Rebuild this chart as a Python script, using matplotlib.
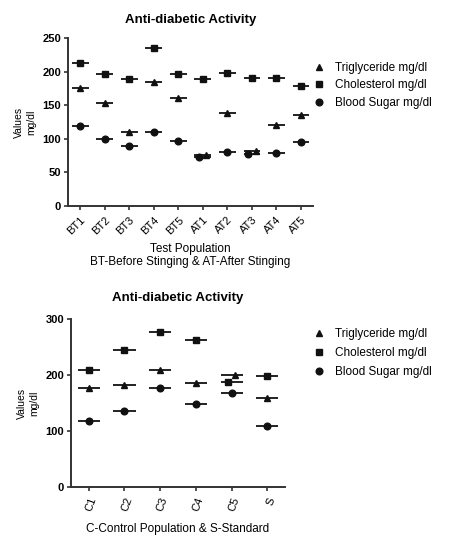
import matplotlib
matplotlib.use("Agg")
import matplotlib.pyplot as plt
import numpy as np

plt.rcParams['font.family'] = ['Liberation Sans', 'DejaVu Sans']

# top panel: test population
test_groups = ["BT1", "BT2", "BT3", "BT4", "BT5", "AT1", "AT2", "AT3", "AT4", "AT5"]
test_trig = [175, 153, 110, 184, 161, 76, 138, 82, 120, 135]
test_chol = [213, 197, 189, 235, 197, 189, 198, 191, 190, 179]
test_sugar = [119, 100, 90, 110, 97, 73, 80, 77, 79, 95]

# bottom panel: control population and standard
ctrl_groups = ["C1", "C2", "C3", "C4", "C5", "S"]
ctrl_trig = [176, 182, 209, 185, 200, 158]
ctrl_chol = [209, 245, 277, 262, 187, 199]
ctrl_sugar = [118, 136, 176, 148, 167, 108]

labels = ["Triglyceride mg/dl", "Cholesterol mg/dl", "Blood Sugar mg/dl"]
markers = ["^", "s", "o"]
ink = "#111111"


def draw_panel(ax, groups, series, ymax, step, line_w, dodge, rot):
    x = np.arange(1, len(groups) + 1)
    offsets = np.zeros((len(series), len(groups)))
    # shift points sideways where two series sit on top of each other
    for j in range(len(groups)):
        for a in range(len(series)):
            for b in range(a + 1, len(series)):
                if abs(series[a][j] - series[b][j]) < 0.05 * ymax:
                    lo, hi = (a, b) if series[a][j] < series[b][j] else (b, a)
                    offsets[lo, j] = -dodge
                    offsets[hi, j] = dodge
    handles = []
    for k, vals in enumerate(series):
        vals = np.array(vals)
        ax.hlines(vals, x - line_w / 2, x + line_w / 2, color=ink, lw=1.3)
        h, = ax.plot(x + offsets[k], vals, ls='none', marker=markers[k],
                     ms=4.8, color=ink, label=labels[k])
        handles.append(h)
    ax.set_xlim(0.5, len(groups) + 0.5)
    ax.set_ylim(0, ymax)
    ax.set_yticks(np.arange(0, ymax + 1, step))
    ax.set_xticks(x)
    ax.set_xticklabels(groups, rotation=rot, ha='right',
                       rotation_mode='anchor', fontsize=8)
    for s in ['top', 'right']:
        ax.spines[s].set_visible(False)
    for s in ['left', 'bottom']:
        ax.spines[s].set_linewidth(1.4)
        ax.spines[s].set_color('#333333')
    ax.tick_params(direction='out', length=3, width=1.2, color='#333333',
                   labelsize=8, pad=2)
    ax.tick_params(axis='x', pad=3.5)
    for t in ax.get_yticklabels():
        t.set_fontweight('bold')
    ax.set_ylabel("Values\nmg/dl", fontsize=7.5, labelpad=4, linespacing=1.4)
    return handles


fig = plt.figure(figsize=(4.49, 5.42), dpi=100)

ax1 = fig.add_axes([0.1514, 0.6199, 0.546, 0.310])
h1 = draw_panel(ax1, test_groups, [test_trig, test_chol, test_sugar],
                250, 50, 0.68, 0.15, 45)
ax1.set_title("Anti-diabetic Activity", fontsize=9.5, fontweight='bold', pad=11)
ax1.set_xlabel("Test Population\nBT-Before Stinging & AT-After Stinging",
               fontsize=8.5, labelpad=5, linespacing=1.05)
fig.legend(handles=h1, loc='upper left', bbox_to_anchor=(0.69, 0.894),
           frameon=False, fontsize=8.5, handlelength=0.8, handletextpad=0.9,
           labelspacing=0.45, borderaxespad=0)

ax2 = fig.add_axes([0.158, 0.1015, 0.477, 0.310])
h2 = draw_panel(ax2, ctrl_groups, [ctrl_trig, ctrl_chol, ctrl_sugar],
                300, 100, 0.62, 0.1, 70)
ax2.set_title("Anti-diabetic Activity", fontsize=9.5, fontweight='bold', pad=13)
ax2.set_xlabel("C-Control Population & S-Standard", fontsize=8.5, labelpad=7)
fig.legend(handles=h2, loc='upper left', bbox_to_anchor=(0.69, 0.404),
           frameon=False, fontsize=8.5, handlelength=0.8, handletextpad=0.9,
           labelspacing=0.6, borderaxespad=0)

fig.savefig("out.png", dpi=100)
